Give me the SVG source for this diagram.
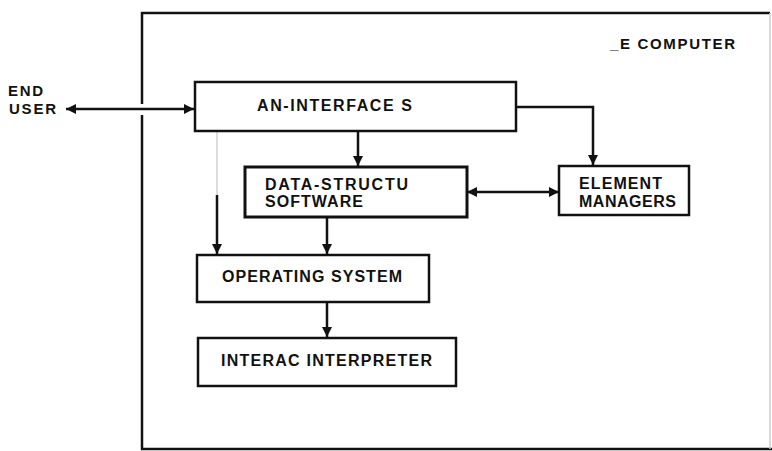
<svg xmlns="http://www.w3.org/2000/svg" width="772" height="451" viewBox="0 0 772 451">
<defs>
<marker id="ah" viewBox="0 0 10 10" refX="10" refY="5" markerWidth="11" markerHeight="10" markerUnits="userSpaceOnUse" orient="auto-start-reverse">
<path d="M0,0 L10,5 L0,10 z" fill="#111"/>
</marker>
<style>
.box{fill:#fff;stroke:#111;stroke-width:2.5}
.frame{fill:none;stroke:#111;stroke-width:2.5}
.ln{fill:none;stroke:#111;stroke-width:2.5}
.t{font-family:"Liberation Sans",Arial,sans-serif;font-weight:bold;font-size:16px;fill:#111}
.s{font-size:15px}
</style>
</defs>
<rect width="772" height="451" fill="#fff"/>
<g id="frame">
<path class="frame" d="M142,104 V13 H770"/>
<path class="frame" d="M142,115 V449 H772"/>
<path d="M770,13 V449" stroke="#ccc" stroke-width="1.5" fill="none"/>
<text class="t s" x="610" y="49" textLength="125" lengthAdjust="spacing">_E COMPUTER</text>
</g>
<g id="end-user">
<text class="t s" x="8" y="96" textLength="35" lengthAdjust="spacing">END</text>
<text class="t s" x="9" y="114" textLength="47" lengthAdjust="spacing">USER</text>
</g>
<g id="connectors">
<line class="ln" x1="66" y1="109" x2="194" y2="109" marker-start="url(#ah)" marker-end="url(#ah)"/>
<path class="ln" d="M516,107 H593 V165" marker-end="url(#ah)"/>
<line class="ln" x1="358" y1="131" x2="358" y2="166" marker-end="url(#ah)"/>
<line class="ln" x1="467" y1="192" x2="559" y2="192" marker-start="url(#ah)" marker-end="url(#ah)"/>
<line x1="217" y1="132" x2="217" y2="196" stroke="#ddd" stroke-width="2"/>
<line class="ln" x1="217" y1="195" x2="217" y2="254" marker-end="url(#ah)"/>
<line class="ln" x1="327" y1="217" x2="327" y2="254" marker-end="url(#ah)"/>
<line class="ln" x1="327" y1="302" x2="327" y2="337" marker-end="url(#ah)"/>
</g>
<g id="man-interface">
<rect class="box" x="195" y="82" width="321" height="49"/>
<text class="t" x="257" y="111" textLength="155" lengthAdjust="spacing">AN-INTERFACE S</text>
</g>
<g id="data-structure">
<rect class="box" x="245" y="167" width="222" height="50" style="stroke-width:3"/>
<text class="t" x="265" y="190" textLength="143" lengthAdjust="spacing">DATA-STRUCTU</text>
<text class="t" x="265" y="207" textLength="98" lengthAdjust="spacing">SOFTWARE</text>
</g>
<g id="element-managers">
<rect class="box" x="559" y="166" width="130" height="49"/>
<text class="t" x="579" y="189" textLength="83" lengthAdjust="spacing">ELEMENT</text>
<text class="t" x="579" y="207" textLength="97" lengthAdjust="spacing">MANAGERS</text>
</g>
<g id="operating-system">
<rect class="box" x="197" y="255" width="232" height="47"/>
<text class="t" x="222" y="282" textLength="180" lengthAdjust="spacing">OPERATING SYSTEM</text>
</g>
<g id="interac-interpreter">
<rect class="box" x="198" y="338" width="258" height="48"/>
<text class="t" x="221" y="366" textLength="211" lengthAdjust="spacing">INTERAC INTERPRETER</text>
</g>
</svg>
